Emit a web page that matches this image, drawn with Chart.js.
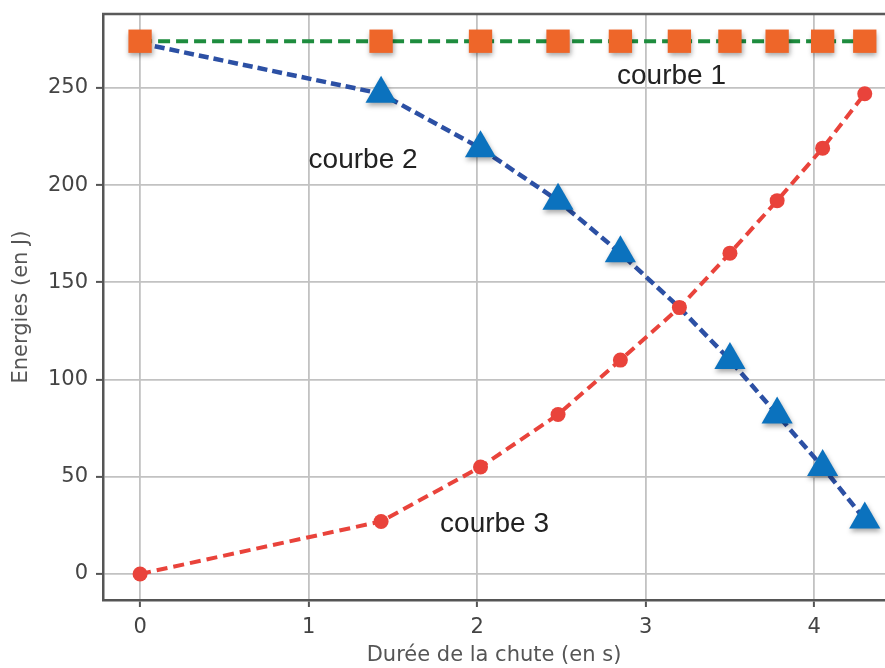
<!DOCTYPE html>
<html>
<head>
<meta charset="utf-8">
<script src="https://cdn.jsdelivr.net/npm/chart.js@4/dist/chart.umd.min.js"></script>
<style>
  html, body { margin: 0; padding: 0; background: #fff; }
  #wrap { width: 885px; height: 668px; }
</style>
</head>
<body>
<div id="wrap"><canvas id="c" width="885" height="668"></canvas></div>
<script>
// ---- data ----
const temps = [0, 1.43, 2.02, 2.48, 2.85, 3.20, 3.50, 3.78, 4.05, 4.30];
const courbe1 = [274, 274, 274, 274, 274, 274, 274, 274, 274, 274];
const courbe2 = [273, 247, 219, 192, 165, 137, 110, 82, 55, 28];
const courbe3 = [0, 27, 55, 82, 110, 137, 165, 192, 219, 247];
const labels = ["courbe 1", "courbe 2", "courbe 3"];
const xTicks = [0, 1, 2, 3, 4];
const yTicks = [0, 50, 100, 150, 200, 250];
const xTitle = "Durée de la chute (en s)";
const yTitle = "Energies (en J)";

const pts = (ys) => temps.map((t, i) => ({ x: t, y: ys[i] }));

const ORANGE = '#EE6629';
const TRI = '#0B72BE';
const RED = '#E9433B';
const BLUE_LINE = '#2C50A4';
const GREEN = '#1E8C3E';

// label anchors in data units: [x, y]
const labelAnchors = [[2.83, 252], [1.0, 209], [1.78, 21.5]];

const shadowPlugin = {
  id: 'shadow',
  beforeDatasetDraw(chart, args) {
    const ds = chart.data.datasets[args.index];
    if (ds.shadow) {
      const ctx = chart.ctx;
      ctx.save();
      ctx.shadowColor = 'rgba(0,0,0,0.35)';
      ctx.shadowBlur = 5;
      ctx.shadowOffsetX = 1;
      ctx.shadowOffsetY = 3;
      ds._shadowed = true;
    }
  },
  afterDatasetDraw(chart, args) {
    const ds = chart.data.datasets[args.index];
    if (ds._shadowed) {
      chart.ctx.restore();
      ds._shadowed = false;
    }
  }
};

const framePlugin = {
  id: 'frame',
  afterDraw(chart) {
    const ctx = chart.ctx, a = chart.chartArea;
    ctx.save();
    ctx.strokeStyle = '#5a5a5a';
    ctx.lineWidth = 2.5;
    ctx.beginPath();
    ctx.moveTo(a.left - 1, a.top);
    ctx.lineTo(a.right, a.top);
    ctx.stroke();
    // annotations
    const xs = chart.scales.x, ys = chart.scales.y;
    ctx.fillStyle = '#222';
    ctx.font = '28px "Liberation Sans", Arial, sans-serif';
    ctx.textAlign = 'left';
    ctx.textBaseline = 'alphabetic';
    labels.forEach((t, i) => {
      ctx.fillText(t, xs.getPixelForValue(labelAnchors[i][0]), ys.getPixelForValue(labelAnchors[i][1]));
    });
    ctx.restore();
  }
};

const tickFont = { family: 'DejaVu Sans', size: 21 };

new Chart(document.getElementById('c'), {
  type: 'line',
  data: {
    datasets: [
      { // orange squares (courbe 1 markers)
        data: pts(courbe1), showLine: false, shadow: true,
        pointStyle: 'rect', pointRadius: 16.5, pointHoverRadius: 16.5,
        pointBackgroundColor: ORANGE, pointBorderWidth: 0, borderColor: ORANGE, clip: false
      },
      { // blue triangles (courbe 2 markers)
        data: pts(courbe2), showLine: false, shadow: true,
        pointStyle: 'triangle', pointRadius: [0, 18, 18, 18, 18, 0, 18, 18, 18, 18],
        pointBackgroundColor: TRI, pointBorderWidth: 0, borderColor: TRI, clip: false
      },
      { // red circles (courbe 3 markers)
        data: pts(courbe3), showLine: false,
        pointStyle: 'circle', pointRadius: 7.5,
        pointBackgroundColor: RED, pointBorderWidth: 0, borderColor: RED, clip: false
      },
      { // green dashed line
        data: pts(courbe1), borderColor: GREEN, borderWidth: 4, borderDash: [12, 6],
        pointRadius: 0, tension: 0, fill: false
      },
      { // blue dashed line
        data: pts(courbe2), borderColor: BLUE_LINE, borderWidth: 4.5, borderDash: [10, 5],
        pointRadius: 0, tension: 0, fill: false
      },
      { // red dashed line
        data: pts(courbe3), borderColor: RED, borderWidth: 4, borderDash: [11, 6],
        pointRadius: 0, tension: 0, fill: false
      }
    ]
  },
  options: {
    responsive: false,
    animation: false,
    devicePixelRatio: 1,
    events: [],
    layout: { autoPadding: false, padding: { top: 14, right: 0, bottom: 0, left: 0 } },
    plugins: { legend: { display: false }, tooltip: { enabled: false } },
    scales: {
      x: {
        type: 'linear', min: -0.22, max: 4.42,
        afterBuildTicks(s) { s.ticks = xTicks.map(v => ({ value: v })); },
        afterFit(s) { s.height = 68; s.paddingRight = 0; s.paddingLeft = 0; },
        ticks: { color: '#444', font: tickFont, padding: 8, maxRotation: 0 },
        grid: { color: '#c2c2c2', lineWidth: 1.8, tickLength: 7, tickColor: '#555', tickWidth: 2 },
        border: { color: '#555', width: 2.5 },
        title: { display: true, text: xTitle, color: '#555', font: { family: 'DejaVu Sans', size: 21 }, padding: { top: 2, bottom: 0 } }
      },
      y: {
        type: 'linear', min: -13.4, max: 288,
        afterBuildTicks(s) { s.ticks = yTicks.map(v => ({ value: v })); },
        afterFit(s) { s.width = 103; s.paddingTop = 0; s.paddingBottom = 0; },
        ticks: { color: '#444', font: tickFont, padding: 8 },
        grid: { color: '#c2c2c2', lineWidth: 1.8, tickLength: 7, tickColor: '#555', tickWidth: 2 },
        border: { color: '#555', width: 2.5 },
        title: { display: true, text: yTitle, color: '#555', font: { family: 'DejaVu Sans', size: 21 }, padding: { top: 9, bottom: 0 } }
      }
    }
  },
  plugins: [shadowPlugin, framePlugin]
});
</script>
</body>
</html>
